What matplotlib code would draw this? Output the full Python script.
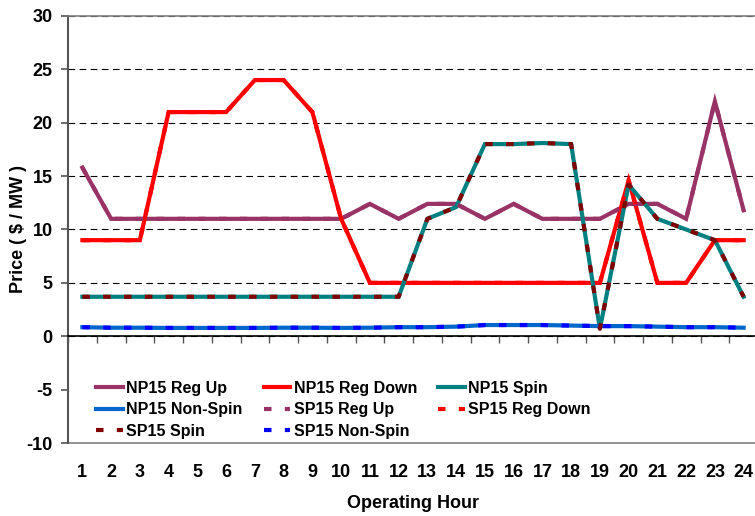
import matplotlib
matplotlib.use("Agg")
import matplotlib.pyplot as plt

plt.rcParams['font.family'] = ['Liberation Sans', 'DejaVu Sans']
plt.rcParams['font.weight'] = 'bold'
plt.rcParams['axes.unicode_minus'] = False

# --- data ---
hours = list(range(1, 25))
np15_reg_up = [15.8, 11.0, 11.0, 11.0, 11.0, 11.0, 11.0, 11.0, 11.0, 11.0, 12.4, 11.0,
               12.4, 12.4, 11.0, 12.4, 11.0, 11.0, 11.0, 12.4, 12.4, 11.0, 22.0, 11.8]
np15_reg_down = [9.0, 9.0, 9.0, 21.0, 21.0, 21.0, 24.0, 24.0, 21.0, 11.0, 5.0, 5.0,
                 5.0, 5.0, 5.0, 5.0, 5.0, 5.0, 5.0, 14.6, 5.0, 5.0, 9.0, 9.0]
np15_spin = [3.7, 3.7, 3.7, 3.7, 3.7, 3.7, 3.7, 3.7, 3.7, 3.7, 3.7, 3.7,
             11.0, 12.1, 18.0, 18.0, 18.1, 18.0, 0.7, 14.2, 11.0, 10.0, 9.0, 3.7]
np15_non_spin = [0.85, 0.8, 0.8, 0.78, 0.78, 0.78, 0.78, 0.8, 0.8, 0.78, 0.8, 0.85,
                 0.85, 0.9, 1.05, 1.05, 1.05, 1.0, 0.95, 0.95, 0.9, 0.85, 0.85, 0.8]
sp15_reg_up = [15.8, 11.0, 11.0, 11.0, 11.0, 11.0, 11.0, 11.0, 11.0, 11.0, 12.4, 11.0,
               12.4, 12.4, 11.0, 12.4, 11.0, 11.0, 11.0, 12.4, 12.4, 11.0, 22.0, 11.8]
sp15_reg_down = [9.0, 9.0, 9.0, 21.0, 21.0, 21.0, 24.0, 24.0, 21.0, 11.0, 5.0, 5.0,
                 5.0, 5.0, 5.0, 5.0, 5.0, 5.0, 5.0, 14.6, 5.0, 5.0, 9.0, 9.0]
sp15_spin = [3.7, 3.7, 3.7, 3.7, 3.7, 3.7, 3.7, 3.7, 3.7, 3.7, 3.7, 3.7,
             11.0, 12.1, 18.0, 18.0, 18.1, 18.0, 0.7, 14.2, 11.0, 10.0, 9.0, 3.7]
sp15_non_spin = [0.85, 0.8, 0.8, 0.78, 0.78, 0.78, 0.78, 0.8, 0.8, 0.78, 0.8, 0.85,
                 0.85, 0.9, 1.05, 1.05, 1.05, 1.0, 0.95, 0.95, 0.9, 0.85, 0.85, 0.8]

series = [
    ("NP15 Reg Up", np15_reg_up, "#993366", "-"),
    ("NP15 Reg Down", np15_reg_down, "#FF0000", "-"),
    ("NP15 Spin", np15_spin, "#008080", "-"),
    ("NP15 Non-Spin", np15_non_spin, "#0066CC", "-"),
    ("SP15 Reg Up", sp15_reg_up, "#993366", (0, (1.8, 3.2))),
    ("SP15 Reg Down", sp15_reg_down, "#FF0000", (0, (1.8, 3.2))),
    ("SP15 Spin", sp15_spin, "#800000", (0, (1.8, 3.2))),
    ("SP15 Non-Spin", sp15_non_spin, "#0000FF", (0, (1.8, 3.2))),
]

fig = plt.figure(figsize=(7.55, 5.16), dpi=100)
ax = fig.add_axes([68 / 755, 1 - 443 / 516, 690 / 755, (443 - 16) / 516])

handles = []
for name, vals, color, ls in series:
    h, = ax.plot(hours, vals, color=color, linestyle=ls, lw=3, label=name,
                 solid_joinstyle='miter', dash_capstyle='butt')
    handles.append(h)

ax.set_xlim(0.5, 24.5)
ax.set_ylim(-10, 30)
yticks = list(range(-10, 31, 5))
ax.set_yticks(yticks)
ax.yaxis.grid(True, color='black', linestyle=(0, (6, 4)), lw=0.8)
ax.set_axisbelow(True)
# no gridline behind the legend (at -5)
for val, tick in zip(yticks, ax.yaxis.get_major_ticks()):
    if val < 0:
        tick.gridline.set_visible(False)

# spines
ax.spines['right'].set_visible(False)
ax.spines['top'].set_color('#808080')
ax.spines['top'].set_linewidth(1.2)
ax.spines['left'].set_color('#555555')
ax.spines['left'].set_linewidth(1.5)
ax.spines['bottom'].set_position(('data', 0))
ax.spines['bottom'].set_color('black')
ax.spines['bottom'].set_linewidth(1.2)

# category boundary ticks on the zero line
ax.set_xticks([h + 0.5 for h in range(0, 25)])
ax.tick_params(axis='x', direction='out', length=5, width=1, color='#555555',
               labelbottom=False)
ax.tick_params(axis='y', direction='out', length=5, width=1.2, color='#555555',
               pad=6, labelsize=13)

# hour labels along the bottom edge
sec = ax.secondary_xaxis('bottom')
sec.set_xticks(hours)
sec.set_xticklabels([str(h) for h in hours])
sec.tick_params(length=0, pad=15, labelsize=13)
sec.spines['bottom'].set_color('#808080')
sec.spines['bottom'].set_linewidth(1.2)
sec.set_xlabel("Operating Hour", fontsize=13, fontweight='bold', labelpad=10)

for lbl in ax.get_yticklabels():
    lbl.set_fontweight('bold')
for lbl in sec.get_xticklabels():
    lbl.set_fontweight('bold')

ax.set_ylabel("Price ( $ / MW )", fontsize=13, fontweight='bold')
ax.yaxis.set_label_coords(-0.060, 0.5)

# Excel-style row-major legend
order = [0, 3, 6, 1, 4, 7, 2, 5]
leg = ax.legend([handles[i] for i in order], [series[i][0] for i in order],
                ncol=3, loc='upper left', bbox_to_anchor=(0.032, 0.16),
                frameon=False,
                handlelength=1.65, handletextpad=0.2, borderpad=0.4,
                columnspacing=1.35, labelspacing=0.4, borderaxespad=0,
                prop={'weight': 'bold', 'size': 11.5})

fig.savefig("out.png", dpi=100)
